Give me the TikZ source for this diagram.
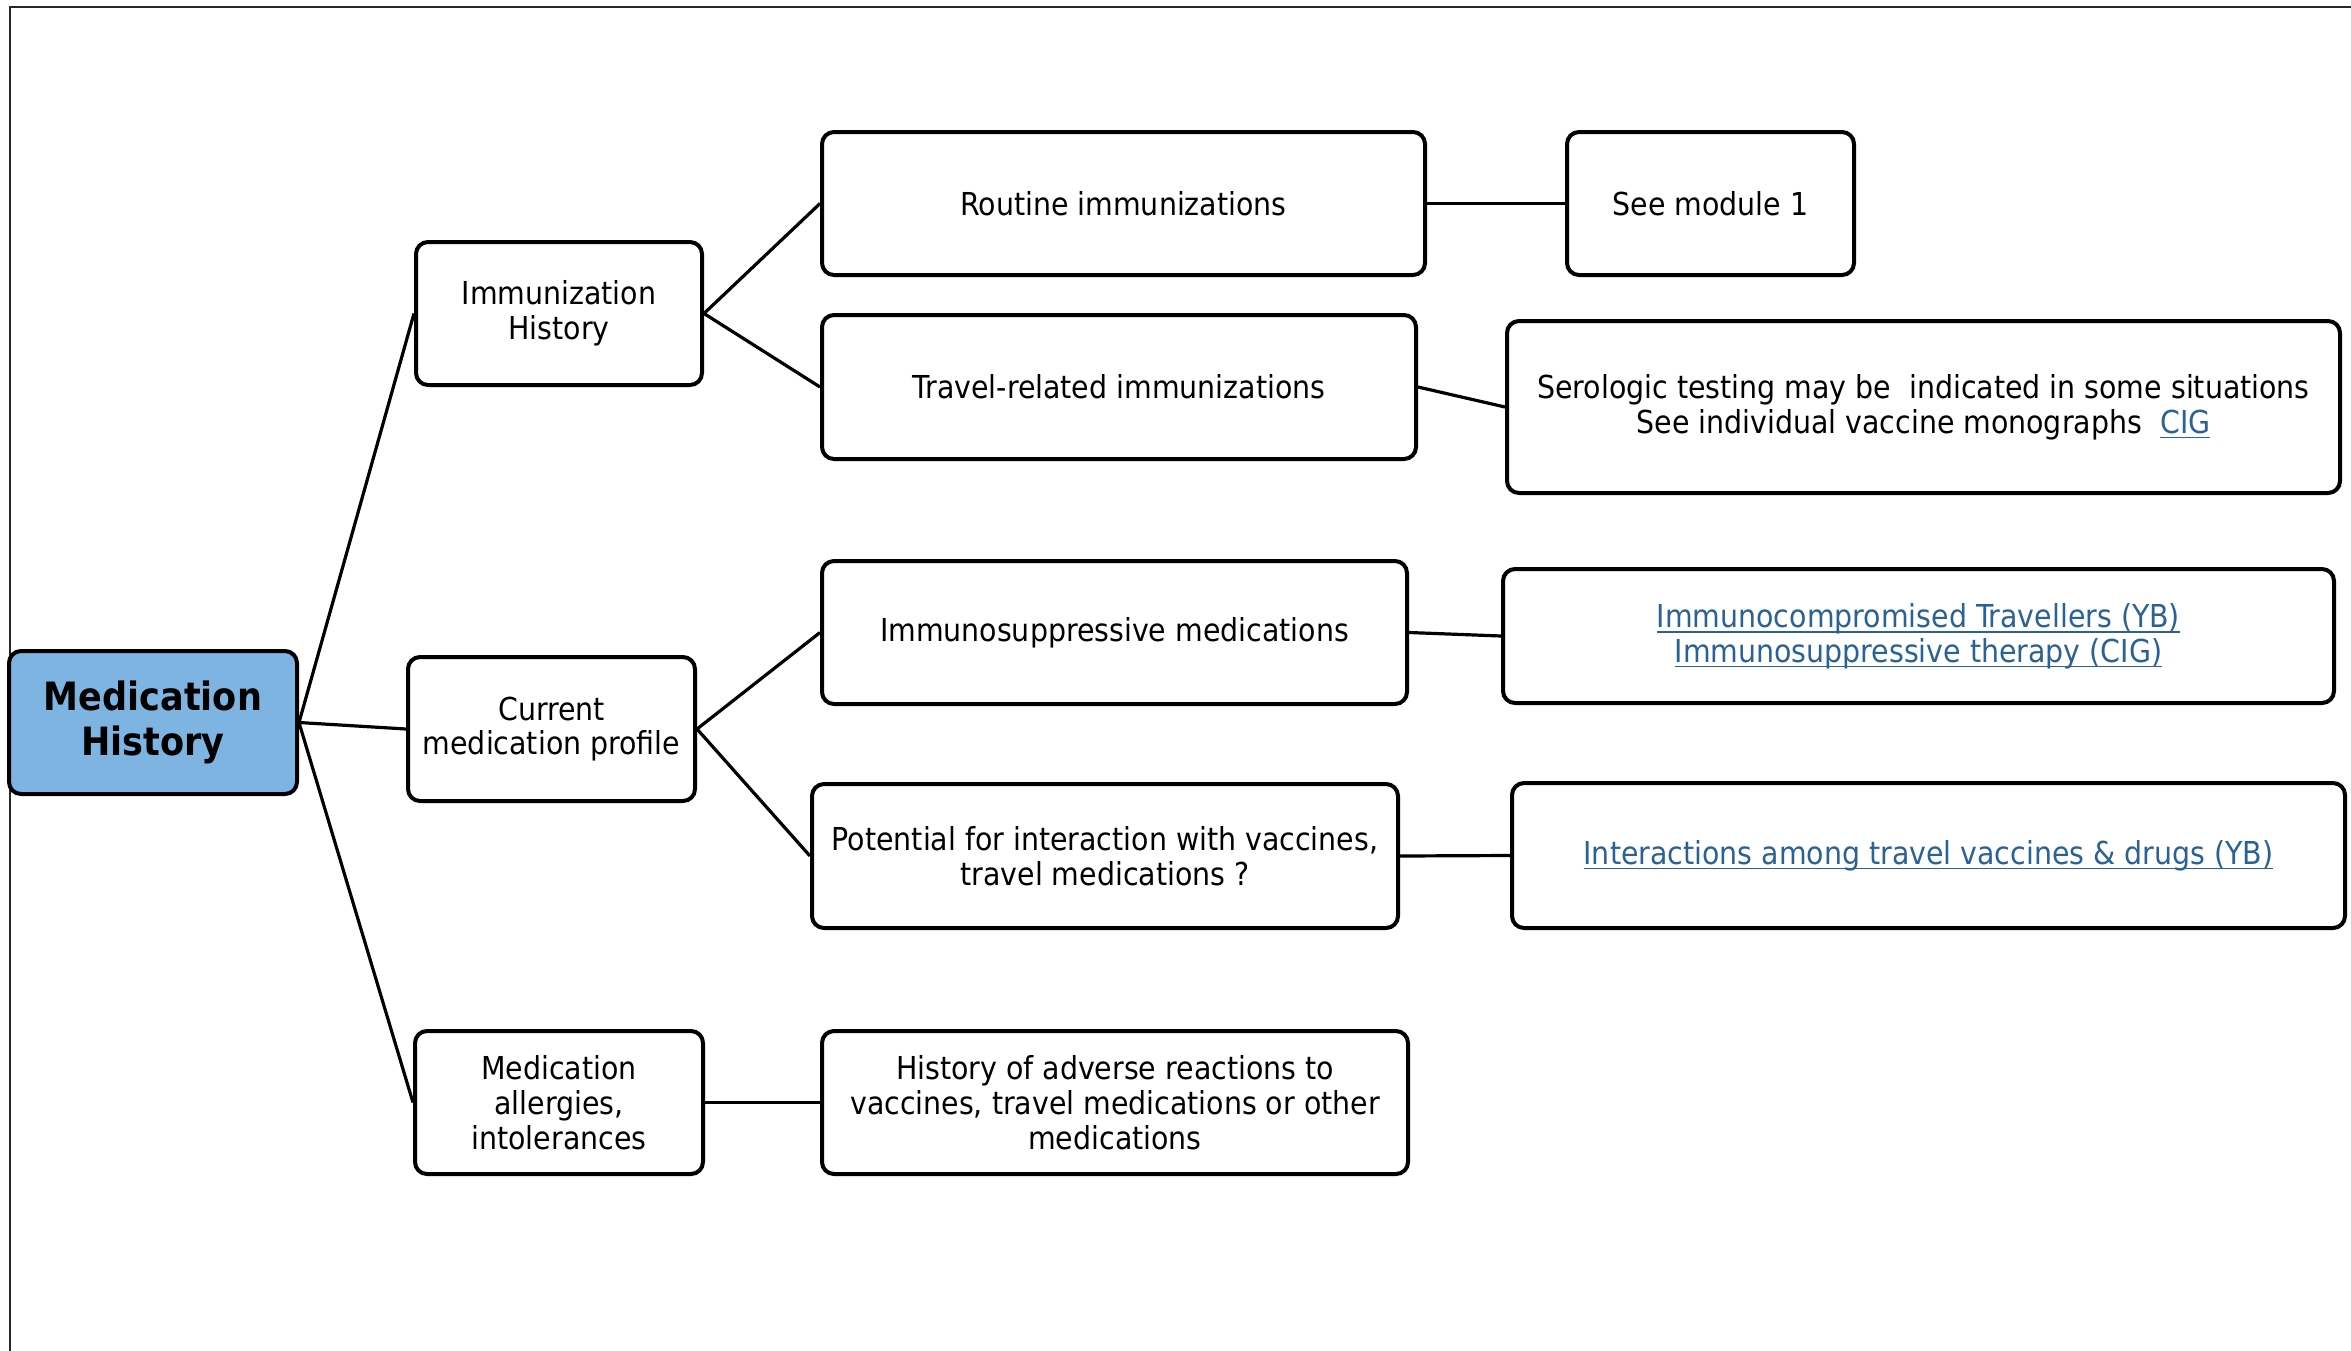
\documentclass[tikz,border=0pt]{standalone}
\usepackage{fontspec}
\setmainfont{DejaVu Sans Condensed}
\usepackage{xcolor}
\definecolor{rootblue}{RGB}{125,180,225}
\definecolor{linkblue}{RGB}{42,98,150}
\definecolor{framegray}{RGB}{40,40,40}
% hyperlink-style text: blue with a thin underline just below the baseline
\newcommand\weblink[1]{\textcolor{linkblue}{\setbox0\hbox{#1}\rlap{\rule[-2.6pt]{\wd0}{0.7pt}}\box0}}
\begin{document}
\begin{tikzpicture}[x=0.5pt,y=-0.5pt,
  box/.style={draw=black, line width=2pt, rounded corners=6pt, fill=white,
    align=center, inner sep=2pt, font=\fontsize{15.8}{17.4}\selectfont},
  rootbox/.style={box, fill=rootblue, font=\fontsize{19.5}{22.5}\selectfont\bfseries},
  conn/.style={line width=1.6pt, draw=black}]
\useasboundingbox (0,0) rectangle (2351,1350);
% outer frame (only the top and left edges fall inside the page)
\draw[framegray, line width=1pt] (10,1400) -- (10,7) -- (2400,7);

% root
\node[rootbox, minimum width=144pt, minimum height=71.5pt] (root) at (153,722.5) {Medication\\History};

% second level
\node[box, minimum width=143pt, minimum height=71.5pt] (imm) at (559,313.5) {Immunization\\History};
\node[box, minimum width=143.5pt, minimum height=72pt] (cur) at (551.5,729) {Current\\medication profile};
\node[box, minimum width=144pt, minimum height=71.5pt] (alg) at (559,1102.5) {Medication\\allergies,\\intolerances};

% third level
\node[box, minimum width=301.5pt, minimum height=71.5pt] (rout) at (1123.5,203.5) {Routine immunizations};
\node[box, minimum width=297pt, minimum height=72pt] (trav) at (1119,387) {Travel-related immunizations};
\node[box, minimum width=292.5pt, minimum height=71.5pt] (imsup) at (1114.5,632.5) {Immunosuppressive medications};
\node[box, minimum width=293pt, minimum height=72pt] (pot) at (1105,856) {Potential for interaction with vaccines,\\travel medications ?};
\node[box, minimum width=293pt, minimum height=71.5pt] (hist) at (1115,1102.5) {History of adverse reactions to\\vaccines, travel medications or other\\medications};

% fourth level
\node[box, minimum width=143.5pt, minimum height=71.5pt] (see) at (1710.5,203.5) {See module 1};
\node[box, minimum width=416.5pt, minimum height=86pt] (sero) at (1923.5,407) {Serologic testing may be \ indicated in some situations\\See individual vaccine monographs \ \weblink{CIG}};
\node[box, minimum width=415.5pt, minimum height=67pt] (imcomp) at (1918.5,636) {\weblink{Immunocompromised Travellers (YB)}\\\weblink{Immunosuppressive therapy (CIG)}};
\node[box, minimum width=416.5pt, minimum height=72.5pt] (inter) at (1928.5,855.5) {\weblink{Interactions among travel vaccines \& drugs (YB)}};

% connectors
\draw[conn] (root.east) -- (imm.west);
\draw[conn] (root.east) -- (cur.west);
\draw[conn] (root.east) -- (alg.west);
\draw[conn] (imm.east) -- (rout.west);
\draw[conn] (imm.east) -- (trav.west);
\draw[conn] (rout.east) -- (see.west);
\draw[conn] (trav.east) -- (sero.west);
\draw[conn] (cur.east) -- (imsup.west);
\draw[conn] (cur.east) -- (pot.west);
\draw[conn] (imsup.east) -- (imcomp.west);
\draw[conn] (pot.east) -- (inter.west);
\draw[conn] (alg.east) -- (hist.west);
\end{tikzpicture}
\end{document}
